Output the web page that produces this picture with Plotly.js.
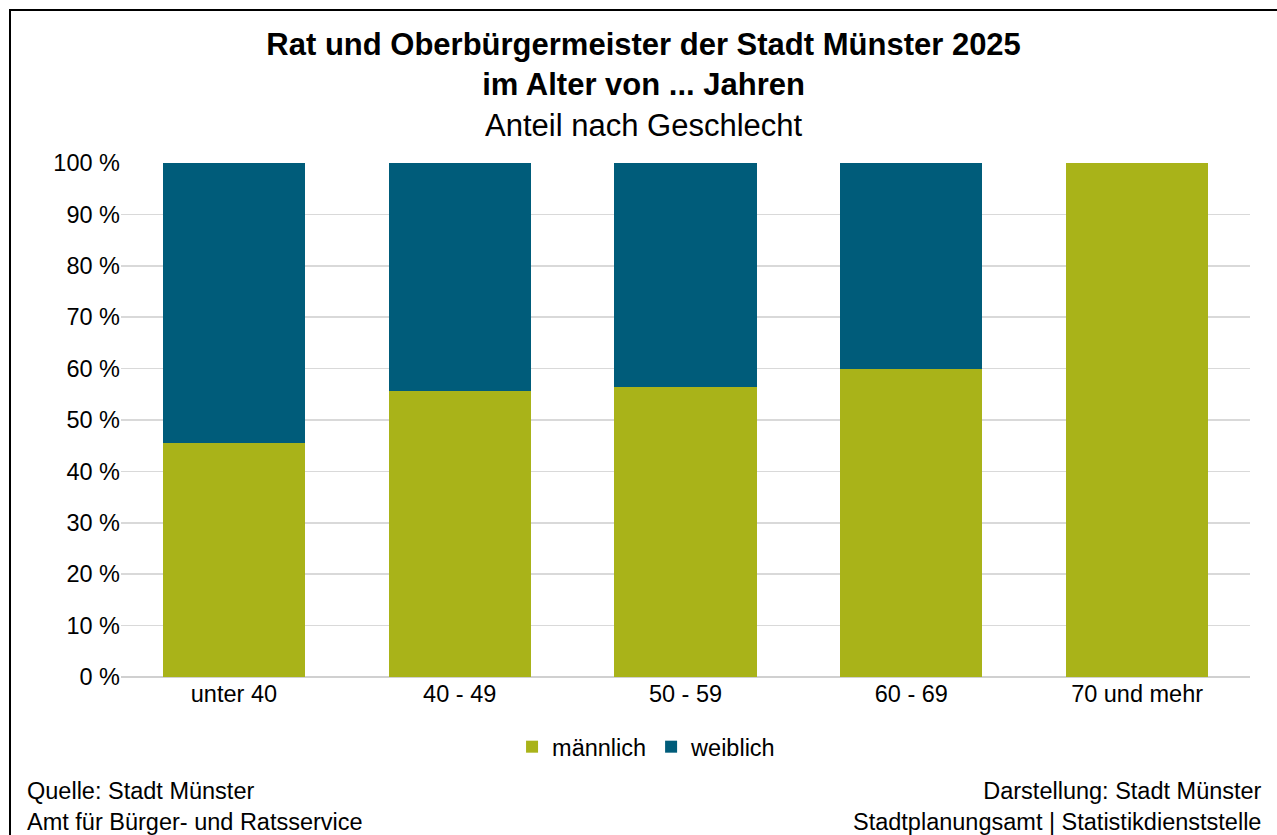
<!DOCTYPE html>
<html>
<head>
<meta charset="utf-8">
<script src="https://cdn.plot.ly/plotly-3.0.1.min.js"></script>
<style>
  html, body { margin:0; padding:0; background:#fff; overflow:hidden; }
  #chart { position:absolute; left:0; top:0; width:1277px; height:835px; }
  #frame { position:absolute; left:9px; top:9px; width:1290px; height:850px; border:2px solid #000; pointer-events:none; }
</style>
</head>
<body>
<div id="chart"></div>
<div id="frame"></div>
<script>
const categories = ["unter 40", "40 - 49", "50 - 59", "60 - 69", "70 und mehr"];
const maennlich = [45.5, 55.6, 56.5, 60.0, 100.0];
const weiblich = [54.5, 44.4, 43.5, 40.0, 0.0];
const seriesNames = ["männlich", "weiblich"];
const yTicks = [0, 10, 20, 30, 40, 50, 60, 70, 80, 90, 100];
const yTickLabels = yTicks.map(v => v + " %");

const FONT = "Liberation Sans, Arial, sans-serif";
const GREEN = "#A9B319";
const BLUE = "#005C7A";
const FS = 23.5;

const traces = [
  { type: "bar", name: seriesNames[0], x: categories, y: maennlich, marker: { color: GREEN } },
  { type: "bar", name: seriesNames[1], x: categories, y: weiblich, marker: { color: BLUE } }
];

const layout = {
  width: 1277, height: 835,
  paper_bgcolor: "#fff", plot_bgcolor: "#fff",
  barmode: "stack",
  bargap: 0.37,
  margin: { l: 121, r: 27, t: 163, b: 158 },
  font: { family: FONT, size: FS, color: "#000" },
  title: {
    text: "<b>Rat und Oberbürgermeister der Stadt Münster 2025</b><br><b>im Alter von ... Jahren</b><br>Anteil nach Geschlecht",
    font: { family: FONT, size: 31, color: "#000" },
    x: 0.504, xref: "container", xanchor: "center",
    y: 0.934, yref: "container", yanchor: "middle"
  },
  xaxis: {
    type: "category",
    tickfont: { family: FONT, size: FS, color: "#000" },
    showline: false, ticks: "", showgrid: false, zeroline: false,
    fixedrange: true
  },
  yaxis: {
    range: [0, 100],
    tickmode: "array",
    tickvals: yTicks,
    ticktext: yTickLabels,
    tickfont: { family: FONT, size: FS, color: "#000" },
    showgrid: true, gridcolor: "#D9D9D9", gridwidth: 1.5,
    zeroline: true, zerolinecolor: "#D0D0D0", zerolinewidth: 2,
    ticks: "", showline: false,
    fixedrange: true
  },
  legend: {
    orientation: "h", traceorder: "normal",
    x: 0.4655, xanchor: "center", y: -0.136, yanchor: "middle",
    font: { family: FONT, size: FS, color: "#000" },
    itemwidth: 30
  },
  annotations: [
    { text: "Quelle: Stadt Münster<br>Amt für Bürger- und Ratsservice", xref: "paper", yref: "paper",
      x: -0.085, xanchor: "left", y: -0.252, yanchor: "middle", align: "left", showarrow: false,
      font: { family: FONT, size: FS, color: "#000" } },
    { text: "Darstellung: Stadt Münster<br>Stadtplanungsamt | Statistikdienststelle", xref: "paper", yref: "paper",
      x: 1.0125, xanchor: "right", y: -0.252, yanchor: "middle", align: "right", showarrow: false,
      font: { family: FONT, size: FS, color: "#000" } }
  ]
};

Plotly.newPlot("chart", traces, layout, { displayModeBar: false, staticPlot: true });
</script>
</body>
</html>
